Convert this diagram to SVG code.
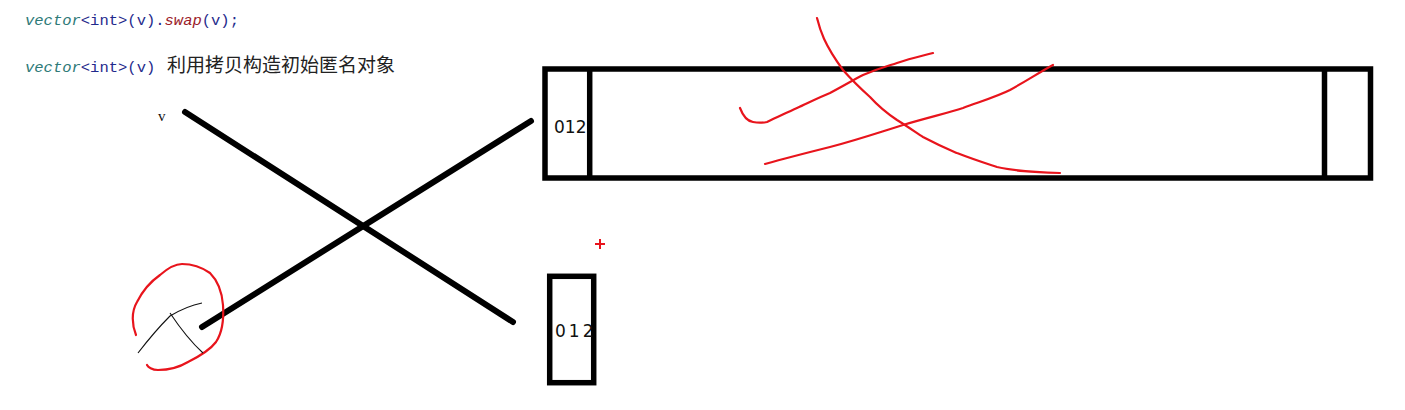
<svg xmlns="http://www.w3.org/2000/svg" width="1405" height="410" viewBox="0 0 1405 410">
<style>
.code{font-family:"Liberation Mono","DejaVu Sans Mono",monospace;font-size:15.5px}
.kw{fill:#2e7a78;font-style:italic}
.ty{fill:#1f2a8c}
.pn{fill:#1f2a8c}
.fn{fill:#9b1b2a;font-style:italic}
.cn{font-family:"Noto Sans CJK SC",sans-serif;font-size:19px;fill:#222}
.box{fill:none;stroke:#000;stroke-width:5.5}
.thick{stroke:#000;stroke-width:6;stroke-linecap:round;fill:none}
.red{stroke:#e8141c;stroke-width:2.2;fill:none;stroke-linecap:round;stroke-linejoin:round}
.thin{stroke:#111;stroke-width:1.1;fill:none}
.hand{font-family:"DejaVu Sans",sans-serif;font-size:17px;fill:#111}
</style>
<rect width="1405" height="410" fill="#fff"/>
<g id="title">
<text class="code" x="25" y="25"><tspan class="kw">vector</tspan><tspan class="ty">&lt;int&gt;</tspan><tspan class="pn">(v).</tspan><tspan class="fn">swap</tspan><tspan class="pn">(v);</tspan></text>
<text class="code" x="25" y="72"><tspan class="kw">vector</tspan><tspan class="ty">&lt;int&gt;</tspan><tspan class="pn">(v)</tspan></text>
<text class="cn" x="167" y="72" textLength="228">利用拷贝构造初始匿名对象</text>
</g>
<g id="v-label"><text x="158" y="121" font-family="Liberation Serif,serif" font-size="15" fill="#111">v</text></g>
<g id="big-vector">
<rect class="box" x="545" y="69" width="825.5" height="109"/>
<line class="box" x1="589.7" y1="69" x2="589.7" y2="178"/>
<line class="box" x1="1324.5" y1="69" x2="1324.5" y2="178"/>
<text class="hand" x="554" y="133" font-size="15">012</text>
</g>
<g id="small-vector">
<rect class="box" x="549.7" y="276.3" width="44" height="106.4"/>
<text class="hand" x="555" y="337" letter-spacing="3">012</text>
</g>
<g id="connectors">
<line class="thick" x1="185" y1="112" x2="513" y2="322"/>
<line class="thick" x1="202" y1="327" x2="531" y2="121"/>
</g>
<g id="annotations">
<path class="red" d="M136,335 C132,325 131,312 137,302 C142,292 150,282 160,275 C168,268 175,264 182,264 C190,264 200,266 210,273 C218,281 222,292 223,305 C224,320 222,333 216,342 C210,350 200,356 188,362 C178,368 168,370 158,370 C152,370 148,367 147,365"/>
<path class="thin" d="M138,353 C148,340 158,328 170,316 C180,310 192,305 202,303"/>
<path class="thin" d="M170,313 C180,328 192,343 203,353"/>
<path class="red" d="M817,18 C820,30 824,44 843,70 C850,78 860,88 870,97 C880,108 888,114 897,120 C910,128 918,134 923,137 C940,146 950,150 957,153 C975,160 988,164 997,167 C1015,171 1030,172 1060,173"/>
<path class="red" d="M740,108 C743,116 747,121 753,122 C758,123 762,123 767,122 C780,116 788,112 797,108 C810,102 820,97 830,93 C845,85 855,79 863,75 C880,68 888,66 897,63 C912,58 922,56 933,53"/>
<path class="red" d="M765,164 C790,157 810,152 830,147 C860,139 880,132 903,125 C930,117 948,113 963,108 C985,100 998,96 1010,90 C1028,80 1040,72 1053,65"/>
<path stroke="#e8141c" stroke-width="2" d="M595,244 H605 M600,239 V249"/>
</g>
</svg>
